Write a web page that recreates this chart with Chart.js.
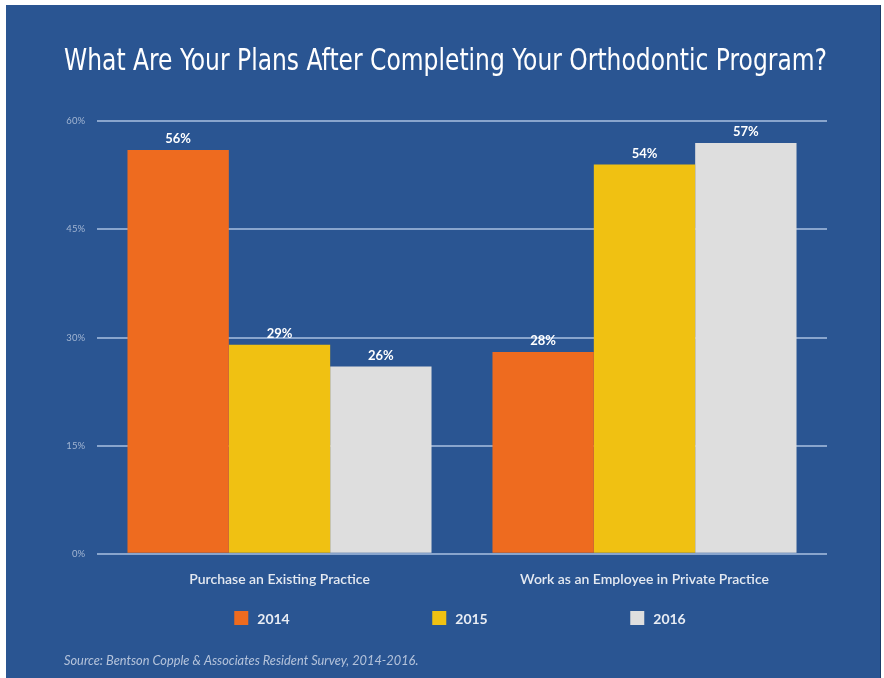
<!DOCTYPE html>
<html>
<head>
<meta charset="utf-8">
<script src="https://cdn.jsdelivr.net/npm/chart.js@4.4.1/dist/chart.umd.min.js"></script>
<style>
  html, body { margin: 0; padding: 0; background: #ffffff; }
  #chart { display: block; }
</style>
</head>
<body>
<canvas id="chart" width="884" height="678"></canvas>
<script>
'use strict';

var categories = ['Purchase an Existing Practice', 'Work as an Employee in Private Practice'];
var years = ['2014', '2015', '2016'];
var values2014 = [56, 28];
var values2015 = [29, 54];
var values2016 = [26, 57];
var yTicks = [0, 15, 30, 45, 60];
var sourceNote = 'Source: Bentson Copple & Associates Resident Survey, 2014-2016.';

var barColors = ['#ee6b1f', '#f0c112', '#dedede'];
var panelBlue = '#2a5592';

// blue panel behind everything
var panelPlugin = {
  id: 'panel',
  beforeDraw: function (chart) {
    var ctx = chart.ctx;
    ctx.save();
    ctx.fillStyle = '#ffffff';
    ctx.fillRect(0, 0, chart.width, chart.height);
    ctx.fillStyle = panelBlue;
    ctx.fillRect(6, 5, 875, chart.height - 5);
    ctx.fillStyle = '#1d3b66';
    ctx.fillRect(880, 5, 1, chart.height - 5);
    ctx.restore();
  }
};

// value labels above each bar
var barLabels = {
  id: 'barLabels',
  afterDatasetsDraw: function (chart) {
    var ctx = chart.ctx;
    ctx.save();
    ctx.font = 'bold 13px Lato, "Open Sans", sans-serif';
    ctx.fillStyle = '#ffffff';
    ctx.textAlign = 'center';
    ctx.textBaseline = 'middle';
    chart.data.datasets.forEach(function (ds, i) {
      chart.getDatasetMeta(i).data.forEach(function (bar, j) {
        ctx.fillText(ds.data[j] + '%', bar.x, bar.y - 11);
      });
    });
    ctx.restore();
  }
};

// spread out legend row, like the original
var wideLegend = {
  id: 'wideLegend',
  afterDraw: function (chart) {
    var ctx = chart.ctx;
    var area = chart.chartArea;
    var mid = (area.left + area.right) / 2;
    var gap = 198;
    var y = 618;
    ctx.save();
    ctx.font = 'bold 14px Lato, "Open Sans", sans-serif';
    ctx.textBaseline = 'middle';
    chart.data.datasets.forEach(function (ds, i) {
      var textW = ctx.measureText(ds.label).width;
      var itemW = 14 + 9 + textW;
      var x0 = mid + (i - 1) * gap - itemW / 2 - 2;
      ctx.fillStyle = ds.backgroundColor;
      ctx.fillRect(x0, y - 7, 14, 14);
      ctx.fillStyle = '#e9edf4';
      ctx.textAlign = 'left';
      ctx.fillText(ds.label, x0 + 23, y + 1);
    });
    ctx.restore();
  }
};

var ctx = document.getElementById('chart');
var myChart = new Chart(ctx, {
  type: 'bar',
  data: {
    labels: categories,
    datasets: [
      { label: years[0], data: values2014, backgroundColor: barColors[0] },
      { label: years[1], data: values2015, backgroundColor: barColors[1] },
      { label: years[2], data: values2016, backgroundColor: barColors[2] }
    ]
  },
  options: {
    responsive: false,
    animation: false,
    devicePixelRatio: 1,
    layout: {
      padding: { left: 64, right: 57, top: 5, bottom: 0 }
    },
    datasets: {
      bar: { barPercentage: 1, categoryPercentage: 0.833, borderWidth: 0 }
    },
    scales: {
      x: {
        grid: { display: false, drawTicks: false },
        border: { display: false },
        ticks: {
          color: '#e4e9f1',
          padding: 17,
          font: { family: 'Lato, "Open Sans", sans-serif', size: 14, weight: '600' }
        }
      },
      y: {
        min: yTicks[0],
        max: yTicks[yTicks.length - 1],
        afterBuildTicks: function (scale) {
          scale.ticks = yTicks.map(function (v) { return { value: v }; });
        },
        afterFit: function (scale) { scale.width = 33; },
        grid: { color: 'rgba(170,192,224,0.75)', lineWidth: 2, drawTicks: false },
        border: { display: false },
        ticks: {
          color: '#a3b6d3',
          padding: 12,
          font: { family: 'Lato, "Open Sans", sans-serif', size: 9.5 },
          callback: function (v) { return v + '%'; }
        }
      }
    },
    plugins: {
      legend: { display: false },
      tooltip: { enabled: false },
      title: {
        display: true,
        text: 'What Are Your Plans After Completing Your Orthodontic Program?',
        color: '#ffffff',
        font: { family: '"Liberation Sans Narrow", "DejaVu Sans Condensed", "Roboto Condensed", sans-serif', size: 29.4, weight: 'normal' },
        padding: { top: 40, bottom: 41 }
      },
      subtitle: {
        display: true,
        position: 'bottom',
        align: 'start',
        text: sourceNote,
        color: '#b4c3db',
        font: { family: 'Lato, "Open Sans", sans-serif', size: 12.8, style: 'italic' },
        padding: { top: 49, bottom: 9 }
      }
    }
  },
  plugins: [panelPlugin, barLabels, wideLegend]
});
</script>
</body>
</html>
